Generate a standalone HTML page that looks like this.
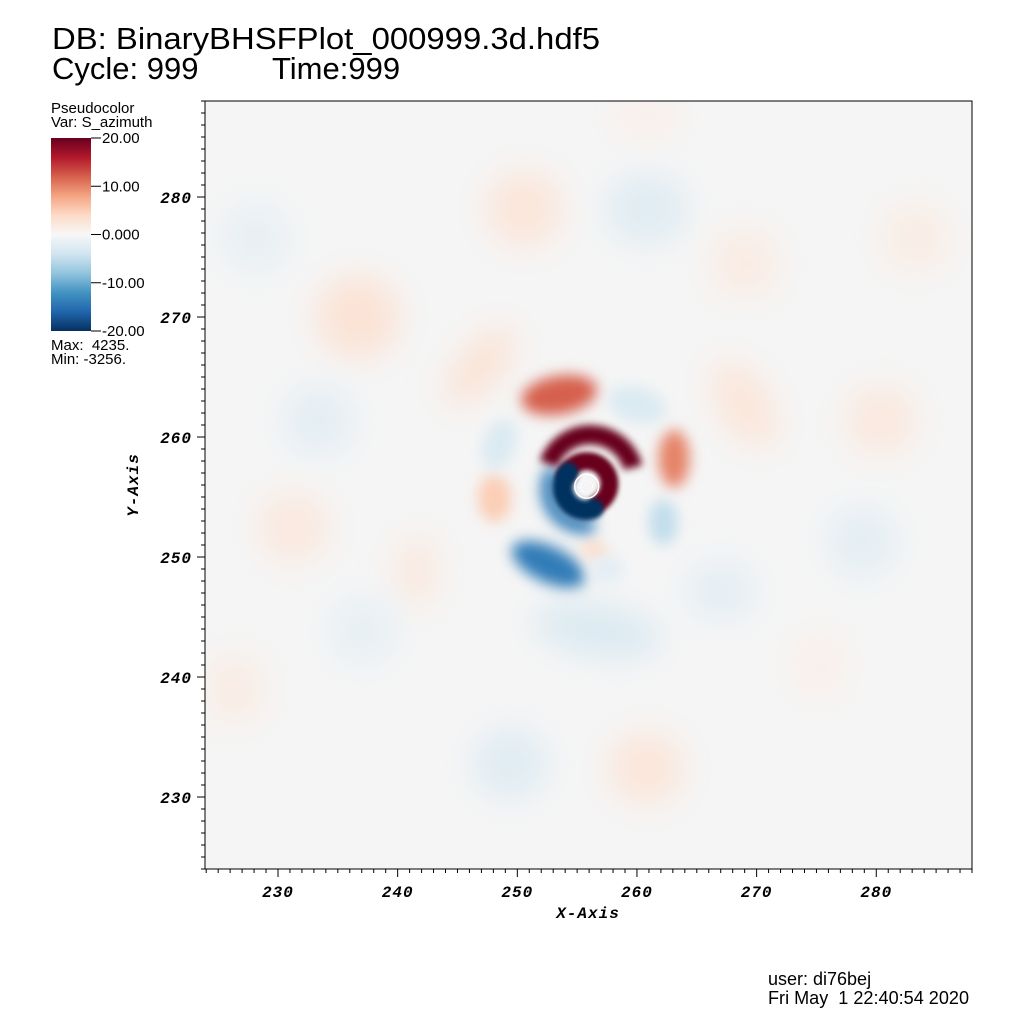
<!DOCTYPE html>
<html><head><meta charset="utf-8"><style>
html,body{margin:0;padding:0;background:#fff;width:1024px;height:1024px;overflow:hidden}
svg{display:block}
.t{font-family:"Liberation Sans",sans-serif;fill:#000}
.tick{font-family:"Liberation Mono",monospace;font-weight:bold;font-style:italic;font-size:16px;fill:#000;letter-spacing:1px}
</style></head><body>
<svg id="chart" width="1024" height="1024" viewBox="0 0 1024 1024">
<defs>
<linearGradient id="cbar" x1="0" y1="1" x2="0" y2="0">
<stop offset="0" stop-color="#053061"/><stop offset="0.1" stop-color="#2166ac"/><stop offset="0.2" stop-color="#4393c3"/><stop offset="0.3" stop-color="#92c5de"/><stop offset="0.4" stop-color="#d1e5f0"/><stop offset="0.5" stop-color="#f7f7f7"/><stop offset="0.6" stop-color="#fddbc7"/><stop offset="0.7" stop-color="#f4a582"/><stop offset="0.8" stop-color="#d6604d"/><stop offset="0.9" stop-color="#b2182b"/><stop offset="1" stop-color="#67001f"/>
</linearGradient>
<filter id="blurBig" filterUnits="userSpaceOnUse" x="0" y="0" width="1024" height="1024"><feGaussianBlur stdDeviation="16"/></filter>
<filter id="blurMid" filterUnits="userSpaceOnUse" x="0" y="0" width="1024" height="1024"><feGaussianBlur stdDeviation="7"/></filter>
<filter id="blurArc" filterUnits="userSpaceOnUse" x="0" y="0" width="1024" height="1024"><feGaussianBlur stdDeviation="4"/></filter>
<filter id="blurSm" filterUnits="userSpaceOnUse" x="0" y="0" width="1024" height="1024"><feGaussianBlur stdDeviation="2.5"/></filter>
<clipPath id="plotClip"><rect x="205" y="101" width="767" height="768"/></clipPath>
</defs>
<text class="t" x="52" y="49" font-size="31" textLength="548" lengthAdjust="spacingAndGlyphs">DB: BinaryBHSFPlot_000999.3d.hdf5</text>
<text class="t" x="52" y="79" font-size="31">Cycle: 999</text>
<text class="t" x="272" y="79" font-size="31">Time:999</text>

<g>
<text class="t" x="51" y="113" font-size="15">Pseudocolor</text>
<text class="t" x="51" y="127" font-size="15">Var: S_azimuth</text>
<rect x="51" y="138" width="40" height="193" fill="url(#cbar)"/>
<g id="cbTicks"></g>
<text class="t" x="51" y="350" font-size="15" xml:space="preserve">Max:  4235.</text>
<text class="t" x="51" y="364" font-size="15">Min: -3256.</text>
</g>

<rect x="205" y="101" width="767" height="768" fill="#f5f5f5"/>
<g id="field" clip-path="url(#plotClip)"></g>
<rect x="205" y="101" width="767" height="768" fill="none" stroke="#000" stroke-width="1"/>
<g id="axes"></g>
<text class="tick" x="588" y="918" text-anchor="middle">X-Axis</text>
<text class="tick" transform="translate(138,485) rotate(-90)" text-anchor="middle">Y-Axis</text>

<text class="t" x="768" y="985" font-size="18">user: di76bej</text>
<text class="t" x="768" y="1004" font-size="18" textLength="201" lengthAdjust="spacingAndGlyphs" xml:space="preserve">Fri May  1 22:40:54 2020</text>
</svg>
<script>
const xDomain=[223.9,288.0];
const yDomain=[224.0,288.0];
const xTicks=[230,240,250,260,270,280];
const yTicks=[230,240,250,260,270,280];
const cbTickVals=[20,10,0,-10,-20];
const cbTickLabels=["20.00","10.00","0.000","-10.00","-20.00"];
// faint background blobs (data coords)
const faintX=[250.6,260.8,236.7,269.0,283.3,228.1,233.4,280.4,231.3,278.8,241.6,237.1,226.4,249.4,260.8,256.7,267.0,269.0,246.9,275.2,260.8];
const faintY=[279.0,279.0,270.0,274.5,276.6,276.6,261.4,261.4,252.5,251.3,248.8,243.9,239.0,232.8,232.4,243.9,247.2,262.7,265.9,241.0,286.7];
const faintRx=[3.2,3.5,3.5,3.0,3.0,3.0,3.0,3.0,3.0,3.0,1.8,3.0,2.5,3.2,3.2,5.5,3.0,2.2,1.8,2.5,3.0];
const faintRy=[3.2,3.0,3.5,3.0,3.0,3.0,3.0,3.0,3.0,3.0,3.0,3.0,3.0,3.0,3.0,2.2,2.5,4.0,4.0,3.0,1.8];
const faintRot=[0,0,0,0,0,0,0,0,0,0,0,0,0,0,0,10,0,-30,40,0,0];
const faintVal=[2.4,-2.4,2.8,1.6,1.5,-1.6,-2.0,2.0,2.0,-2.0,2.0,-1.6,1.6,-2.4,2.4,-3.0,-2.0,2.4,2.8,1.0,1.2];
// medium blobs around the core
const blobX=[253.5,263.1,248.1,252.6,262.2,260.0,248.5,256.5,257.5];
const blobY=[263.5,258.2,254.9,249.4,252.9,262.7,259.4,250.5,249.0];
const blobRx=[3.2,1.3,1.4,3.3,1.2,2.5,1.4,1.2,1.5];
const blobRy=[1.6,2.4,2.0,1.5,1.9,1.5,2.2,0.8,1.2];
const blobRot=[-10,0,0,25,0,15,20,20,0];
const blobVal=[12,10,5,-14,-5,-3,-3,4,-2];
// core arcs
const arcR=[1.9,1.9,3.7,3.0];
const arcA0=[-160,70,-160,85];
const arcA1=[60,220,-15,205];
const arcW=[1.5,1.7,1.6,1.3];
const arcVal=[26,-26,30,-14];
const arcCX=[255.8,255.7,256.1,255.6];
const arcCY=[256.1,255.8,256.5,255.6];

const NS="http://www.w3.org/2000/svg";
const X0=205,X1=972,Y0=869,Y1=101;
function sx(v){return X0+(v-xDomain[0])/(xDomain[1]-xDomain[0])*(X1-X0);}
function sy(v){return Y0-(v-yDomain[0])/(yDomain[1]-yDomain[0])*(Y0-Y1);}
const kx=(X1-X0)/(xDomain[1]-xDomain[0]), ky=(Y0-Y1)/(yDomain[1]-yDomain[0]);
const stops=["#053061","#2166ac","#4393c3","#92c5de","#d1e5f0","#f7f7f7","#fddbc7","#f4a582","#d6604d","#b2182b","#67001f"];
function hex(h){return [1,3,5].map(i=>parseInt(h.substr(i,2),16));}
function cmap(v){let t=(Math.max(-20,Math.min(20,v))+20)/40*10;let i=Math.min(9,Math.floor(t));let f=t-i;
 const a=hex(stops[i]),b=hex(stops[i+1]);return "rgb("+a.map((c,j)=>Math.round(c+(b[j]-c)*f)).join(",")+")";}
const field=document.getElementById("field");
function addEll(x,y,rx,ry,rot,val,filt,name){
 const e=document.createElementNS(NS,"ellipse");
 const cx=sx(x),cy=sy(y);
 e.setAttribute("cx",cx);e.setAttribute("cy",cy);
 e.setAttribute("rx",rx*kx);e.setAttribute("ry",ry*ky);
 e.setAttribute("transform","rotate("+rot+" "+cx+" "+cy+")");
 e.setAttribute("fill",cmap(val));
 e.setAttribute("filter",filt);
 
 
 field.appendChild(e);
}
for(let i=0;i<faintX.length;i++) addEll(faintX[i],faintY[i],faintRx[i],faintRy[i],faintRot[i],faintVal[i],"url(#blurBig)","faint-blob");
for(let i=0;i<blobX.length;i++) addEll(blobX[i],blobY[i],blobRx[i],blobRy[i],blobRot[i],blobVal[i],"url(#blurMid)","field-blob");
const order=[3,2,0,1];
for(const i of order){
 const cx=sx(arcCX[i]),cy=sy(arcCY[i]),r=arcR[i]*kx;
 const a0=arcA0[i]*Math.PI/180,a1=arcA1[i]*Math.PI/180;
 const p=document.createElementNS(NS,"path");
 const large=(arcA1[i]-arcA0[i])>180?1:0;
 p.setAttribute("d","M"+(cx+r*Math.cos(a0))+","+(cy+r*Math.sin(a0))+" A"+r+","+r+" 0 "+large+" 1 "+(cx+r*Math.cos(a1))+","+(cy+r*Math.sin(a1)));
 p.setAttribute("fill","none");p.setAttribute("stroke",cmap(arcVal[i]));
 p.setAttribute("stroke-width",arcW[i]*kx);p.setAttribute("stroke-linecap",i===2?"butt":"round");
 p.setAttribute("filter",i===3?"url(#blurMid)":(i===2?"url(#blurArc)":"url(#blurSm)"));
 
 
 field.appendChild(p);
}
[[1.0,"#ffffff",1.5,null],[0.5,"#ffffff",0.8,"2,2"]].forEach(([rr,c,w,d])=>{
 const ci=document.createElementNS(NS,"circle");
 ci.setAttribute("cx",sx(255.8));ci.setAttribute("cy",sy(255.9));ci.setAttribute("r",rr*kx);
 ci.setAttribute("fill","none");ci.setAttribute("stroke",c);ci.setAttribute("stroke-width",w);
 if(d)ci.setAttribute("stroke-dasharray",d);
 
 
 field.appendChild(ci);
});
const ax=document.getElementById("axes");
function line(x1,y1,x2,y2){const l=document.createElementNS(NS,"line");l.setAttribute("x1",x1);l.setAttribute("y1",y1);l.setAttribute("x2",x2);l.setAttribute("y2",y2);l.setAttribute("stroke","#000");l.setAttribute("stroke-width","1");ax.appendChild(l);return l;}
for(let v=Math.ceil(xDomain[0]);v<=xDomain[1];v++){const x=sx(v);const major=v%10===0;
 const l=line(x,869,x,869+(major?8:4));
 
 }
for(let v=Math.ceil(yDomain[0]);v<=yDomain[1];v++){const y=sy(v);const major=v%10===0;
 const l=line(205-(major?8:4),y,205,y);
 
 }
xTicks.forEach(v=>{const t=document.createElementNS(NS,"text");t.setAttribute("class","tick");t.setAttribute("x",sx(v));t.setAttribute("y",897);t.setAttribute("text-anchor","middle");t.textContent=v;
 
 ax.appendChild(t);});
yTicks.forEach(v=>{const t=document.createElementNS(NS,"text");t.setAttribute("class","tick");t.setAttribute("x",192);t.setAttribute("y",sy(v)+6);t.setAttribute("text-anchor","end");t.textContent=v;
 
 ax.appendChild(t);});
const cb=document.getElementById("cbTicks");
cbTickVals.forEach((v,i)=>{const y=331-(v+20)/40*193;
 const l=document.createElementNS(NS,"line");l.setAttribute("x1",91);l.setAttribute("x2",101);l.setAttribute("y1",y);l.setAttribute("y2",y);l.setAttribute("stroke","#000");
 
 cb.appendChild(l);
 const t=document.createElementNS(NS,"text");t.setAttribute("class","t");t.setAttribute("font-size","15");t.setAttribute("x",102);t.setAttribute("y",y+5);t.textContent=cbTickLabels[i];
 
 cb.appendChild(t);});
</script>
</body></html>
